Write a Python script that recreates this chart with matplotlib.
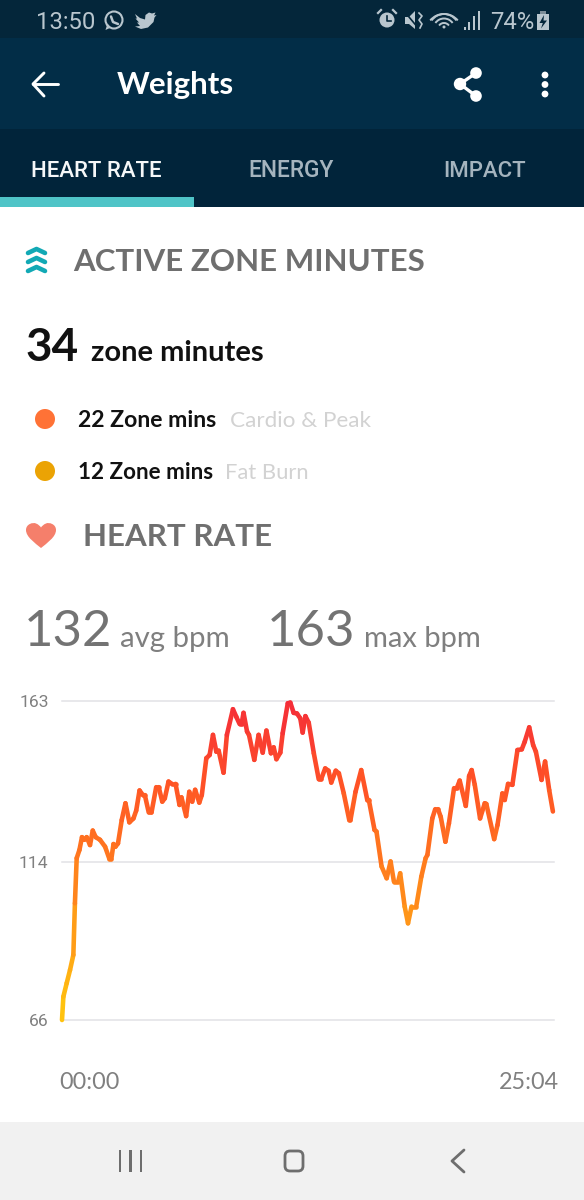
import numpy as np
import matplotlib
matplotlib.use("Agg")
import matplotlib.pyplot as plt
from matplotlib.collections import LineCollection
from matplotlib.colors import LinearSegmentedColormap, Normalize
from matplotlib.patches import Circle, Rectangle, PathPatch, FancyBboxPatch, Arc, Polygon
from matplotlib.path import Path
from matplotlib.transforms import ScaledTranslation

minutes = [0.00,0.07,0.24,0.41,0.58,0.66,0.75,0.89,1.02,1.14,1.26,1.43,1.57,1.72,1.94,2.20,2.42,2.52,2.63,2.73,2.86,3.05,3.24,3.44,3.65,3.79,3.96,4.13,4.23,4.43,4.57,4.81,4.94,5.12,5.25,5.44,5.61,5.80,6.00,6.10,6.34,6.50,6.65,6.80,7.01,7.14,7.37,7.54,7.71,7.88,8.00,8.25,8.42,8.73,8.90,9.07,9.17,9.27,9.45,9.55,9.82,10.04,10.25,10.44,10.67,10.81,10.95,11.15,11.27,11.53,11.66,11.83,12.00,12.17,12.29,12.43,
           12.60,12.86,13.11,13.23,13.44,13.61,13.75,13.98,14.14,14.39,14.67,14.73,14.99,15.28,15.59,15.67,15.96,16.06,16.32,16.58,16.78,16.95,17.17,17.27,17.50,17.67,17.85,18.09,18.35,18.57,18.66,18.91,19.06,19.20,19.34,19.58,19.76,20.02,20.16,20.31,20.62,20.79,20.92,21.08,21.35,21.59,21.67,22.07,22.24,22.49,22.61,22.78,23.00,23.26,23.48,23.63,23.86,24.06,24.20,24.49,24.67,24.88,25.07]
bpm = [66.0,73.1,77.2,81.2,85.8,101.5,115.2,117.7,121.6,120.8,121.6,119.2,123.6,121.6,120.8,118.7,115.0,115.0,119.5,118.7,119.7,126.8,131.9,126.1,127.3,129.7,135.8,134.4,134.4,129.1,129.1,136.8,136.8,132.4,133.4,138.5,137.8,137.8,131.4,133.7,128.0,135.4,132.4,136.0,132.1,134.4,145.6,146.6,152.7,147.6,147.9,141.2,152.7,160.5,158.2,156.0,156.0,159.4,153.7,152.7,145.1,152.7,147.3,154.0,147.1,148.9,145.3,147.3,153.2,162.3,162.5,159.4,159.2,157.7,153.4,158.4,
       156.4,147.1,139.2,139.2,142.5,141.8,138.2,141.8,141.0,134.9,126.8,126.8,135.4,142.0,132.9,132.9,123.8,123.3,112.7,109.1,114.2,108.1,108.1,110.6,100.5,95.4,100.5,100.5,109.6,115.2,116.2,127.3,130.1,130.1,127.8,120.2,125.8,136.5,136.5,138.8,131.1,140.2,142.0,137.5,127.3,131.9,131.7,121.0,125.3,134.9,132.9,137.8,137.5,148.1,148.3,150.6,155.0,149.6,147.6,139.0,144.6,135.9,129.4]
y_ticks = [66, 114, 163]
x_ticks = [0, 25.07]
x_labels = ["00:00", "25:04"]

W, H = 584, 1200
fig = plt.figure(figsize=(W/100, H/100), dpi=100, facecolor="white")
ui = fig.add_axes([0, 0, 1, 1])
ui.set_xlim(0, W); ui.set_ylim(H, 0); ui.axis("off")

def rect(x0, y0, x1, y1, c):
    ui.add_patch(Rectangle((x0, y0), x1-x0, y1-y0, fc=c, ec="none"))
def txt(x, y, s, size, color, font="Lato", weight="normal", ha="left"):
    ui.text(x, y, s, fontsize=size, color=color, family=font, weight=weight, ha=ha, va="baseline")
def stroke(pts, c, lw):
    ui.plot(*zip(*pts), color=c, lw=lw, solid_capstyle="round", solid_joinstyle="round")

# panels
rect(0, 0, W, 38, "#04263A")
rect(0, 38, W, 129, "#022D47")
rect(0, 129, W, 207, "#01243A")
rect(0, 197, 194, 207, "#4FC4C7")
rect(0, 1122, W, H, "#F1F1F1")

# status bar
SB = "#B9C6CE"
txt(36, 29, "13:50", 17.2, SB, "Roboto")
ui.add_patch(Circle((114, 20), 8.5, fc="none", ec=SB, lw=1.5))
ui.add_patch(Polygon([[105.5, 30], [107.5, 23.5], [111, 27.5]], fc=SB, ec="none"))
ui.plot([111, 113, 118], [16.5, 22, 24], color=SB, lw=1.8, solid_capstyle="round")
ui.add_patch(Polygon([(135,14),(140,18),(145,19.5),(145.5,15),(149,12.5),(152,13.5),(155.5,12.5),(154,15.5),
                      (156.5,15),(154.5,17.5),(153.5,22),(148,27.5),(141,29),(135,26.5),(140,26),(137,22.5),
                      (139,22.5),(135.5,18.5),(137,18.5)], fc=SB, ec="none"))
# alarm, mute, wifi, signal, battery
ui.add_patch(Circle((387, 20), 7.5, fc=SB, ec="none"))
ui.plot([387, 387, 391], [16, 21, 21], color="#04263A", lw=1.2)
ui.plot([378, 381], [13, 10], color=SB, lw=1.6)
ui.plot([396, 393], [13, 10], color=SB, lw=1.6)
ui.add_patch(Polygon([[405, 17], [409, 17], [415, 11], [415, 29], [409, 24], [405, 24]], fc=SB, ec="none"))
ui.plot([404, 419], [11, 29], color="#04263A", lw=1.2)
ui.plot([419, 422, 419, 422, 420], [13, 16, 20, 24, 28], color=SB, lw=1.2)
for r in (30, 21, 12):
    ui.add_patch(Arc((444, 29), r, r, theta1=215, theta2=325, color=SB, lw=1.4))
ui.add_patch(Arc((444, 32), 36, 36, theta1=220, theta2=320, color=SB, lw=1.4))
ui.add_patch(Circle((444, 27), 1.5, fc=SB, ec="none"))
for xb, top in [(465, 27), (469, 22), (474, 16), (479, 11)]:
    rect(xb-0.8, top, xb+0.8, 30, SB)
txt(490, 29, "74%", 17.2, SB, "Roboto")
rect(537, 14, 549, 30, SB)
rect(540, 10.5, 546, 14, "#7C8D98")
ui.add_patch(Polygon([[544, 15], [539.5, 23], [542.8, 23], [541, 28.5], [547, 20.5], [543.5, 20.5]], fc="#04263A", ec="none"))

# app bar
stroke([(33, 84), (58, 84)], "white", 2.1)
stroke([(44, 73), (33, 84), (44, 96)], "white", 2.1)
txt(117, 94, "Weights", 22.5, "white", "Lato", "bold")
pts = [(476, 73), (460, 84), (476, 96)]
stroke(pts, "white", 2.4)
for p, r in zip(pts, (5.8, 6.2, 5.8)):
    ui.add_patch(Circle(p, r, fc="white", ec="none"))
for yy in (75, 84.5, 94):
    ui.add_patch(Circle((545, yy), 3.4, fc="white", ec="none"))

# tabs
txt(31, 177, "HEART RATE", 16, "#F5F7F8", "Roboto", "medium")
txt(291, 177, "ENERGY", 16.4, "#A5B4BE", "Roboto", "medium", ha="center")
txt(485, 177, "IMPACT", 16, "#A5B4BE", "Roboto", "medium", ha="center")

# section 1
for yy in (251, 260, 269):
    stroke([(28, yy+2), (36.5, yy-2), (45, yy+2)], "#12A9B5", 3.3)
GR = "#6F6F6F"
txt(73, 271, "ACTIVE ZONE MINUTES", 22.5, GR, "Lato", "bold")
txt(26, 361, "34", 33, "#111111", "Lato", "bold")
txt(91, 361, "zone minutes", 21, "#111111", "Lato", "bold")
ui.add_patch(Circle((45, 419), 10, fc="#FF7236", ec="none"))
ui.add_patch(Circle((45, 471), 10, fc="#EBA304", ec="none"))
txt(78, 427, "22 Zone mins", 16.6, "#111111", "Lato", "bold")
txt(230, 427, "Cardio & Peak", 16.2, "#D2D2D2", "Lato")
txt(78, 479, "12 Zone mins", 16.1, "#111111", "Lato", "bold")
txt(225, 479, "Fat Burn", 15.8, "#D2D2D2", "Lato")

# heart
hx, hy = 41, 535
heart = Path([(hx, hy+13), (hx-6, hy+8), (hx-15, hy+2), (hx-15, hy-5),
              (hx-15, hy-11), (hx-8, hy-13), (hx-5, hy-11.5), (hx-2.5, hy-10.5), (hx-1, hy-9), (hx, hy-7.5),
              (hx+1, hy-9), (hx+2.5, hy-10.5), (hx+5, hy-11.5), (hx+8, hy-13), (hx+15, hy-11), (hx+15, hy-5),
              (hx+15, hy+2), (hx+6, hy+8), (hx, hy+13)],
             [Path.MOVETO] + [Path.CURVE4]*18)
ui.add_patch(PathPatch(heart, fc="#F57F6B", ec="none"))
txt(83, 546, "HEART RATE", 22.5, GR, "Lato", "bold")

# averages
NUM = "#737373"
txt(24, 646, "132", 36.5, NUM)
txt(120, 647, "avg bpm", 21.2, "#7F7F7F")
txt(267, 646, "163", 36.5, NUM)
txt(364, 647, "max bpm", 21, "#7F7F7F")

# nav bar
NV = "#6E6E6E"
for xb in (120, 130.5, 141):
    rect(xb-1.2, 1150, xb+1.2, 1172, NV)
ui.add_patch(FancyBboxPatch((285, 1151), 18, 20, boxstyle="round,pad=0,rounding_size=5", fc="none", ec=NV, lw=2))
stroke([(464, 1150), (452, 1161), (464, 1172)], NV, 2.0)

# chart
left, right, top, bottom = 62, 553.5, 701, 1020
ax = fig.add_axes([left/W, 1-bottom/H, (right-left)/W, (bottom-top)/H], facecolor="none")
ax.set_xlim(0, 25.1)
ax.set_ylim(y_ticks[0], y_ticks[-1])
for s in ax.spines.values():
    s.set_visible(False)
ax.set_yticks(y_ticks)
ax.set_yticklabels([str(v) for v in y_ticks], fontsize=12.6, color="#808080", family="Roboto")
ax.set_xticks(x_ticks)
ax.set_xticklabels(x_labels, fontsize=16.8, color="#808080", family="Lato")
ax.tick_params(axis="both", length=0)
ax.tick_params(axis="y", pad=9.6)
ax.tick_params(axis="x", pad=37.5)
ax.grid(axis="y", color="#E2E2E6", lw=1.1, clip_on=False)
ax.set_axisbelow(True)
for gl in ax.get_ygridlines():
    gl.set_clip_on(False)
labs = ax.get_xticklabels()
labs[0].set_ha("left"); labs[1].set_ha("right")
labs[0].set_transform(labs[0].get_transform() + ScaledTranslation(-3/100, 0, fig.dpi_scale_trans))
labs[1].set_transform(labs[1].get_transform() + ScaledTranslation(6/100, 0, fig.dpi_scale_trans))

x = np.array(minutes); y = np.array(bpm)
seg = np.stack([np.column_stack([x[:-1], y[:-1]]), np.column_stack([x[1:], y[1:]])], axis=1)
cmap = LinearSegmentedColormap.from_list("hr", [(0, "#FFC70E"), (0.25, "#FFA216"), (0.5, "#FF7A1E"),
                                               (0.75, "#FF5226"), (1, "#F42B3A")])
lc = LineCollection(seg, array=(y[:-1]+y[1:])/2, cmap=cmap, norm=Normalize(66, 163),
                    linewidth=3.3, capstyle="round", joinstyle="round", clip_on=False, zorder=3)
ax.add_collection(lc)

fig.savefig("out.png", dpi=100)
